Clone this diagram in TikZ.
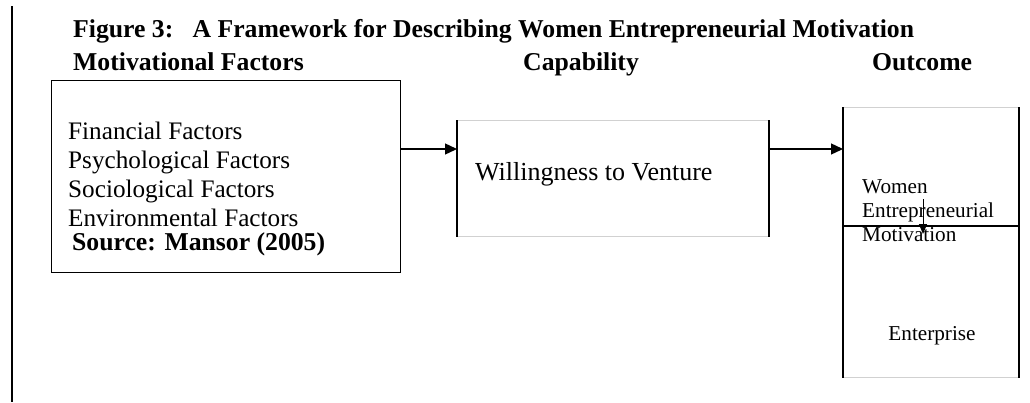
\documentclass[tikz,border=0pt]{standalone}
\usepackage{fontspec}
\setmainfont{Liberation Serif}
\usetikzlibrary{positioning,arrows.meta}
\tikzset{
  box/.style={draw=black, line width=1.2pt, inner sep=0pt},
  softbox/.style={draw=black!18, line width=1pt, inner sep=0pt},
  side/.style={draw=black, line width=1.2pt},
  link/.style={draw=black, line width=1.3pt, -{Triangle[length=12pt,width=11pt]}},
  head/.style={font=\fontsize{25.7}{28}\selectfont\bfseries, anchor=base west, inner sep=0pt},
  body/.style={font=\fontsize{25.2}{29}\selectfont, anchor=base west, inner sep=0pt},
  small/.style={font=\fontsize{21.2}{24}\selectfont, anchor=base west, inner sep=0pt}
}

\begin{document}
\begin{tikzpicture}[x=1pt, y=-1pt]
  \useasboundingbox (0,0) rectangle (1030,402);
  \draw[line width=1.5pt] (12,6) -- (12,402);

  % headings
  \node[head] (title) at (73,37) {Figure 3:\ \ \ A Framework for Describing Women Entrepreneurial Motivation};
  \node[head] (hfac) at (73,70) {Motivational Factors};
  \node[head] (hcap) at (523,70) {Capability};
  \node[head] (hout) at (872,70) {Outcome};

  % motivational factors
  \node[box, minimum width=349pt, minimum height=192pt, anchor=north west] (factors) at (51,80) {};
  \foreach \t [count=\i] in {Financial Factors, Psychological Factors, Sociological Factors, Environmental Factors}
    \node[body] (f\i) at (68,110+29*\i) {\t};
  \node[head] (source) at (72,250) {Source: Mansor (2005)};

  % capability
  \node[softbox, minimum width=311pt, minimum height=116pt, anchor=north west] (capab) at (457,120) {};
  \draw[side] (capab.north west) -- (capab.south west);
  \draw[side] (capab.north east) -- (capab.south east);
  \node[body, font=\fontsize{26}{29}\selectfont] (will) at (475,180) {Willingness to Venture};

  % outcome
  \node[softbox, minimum width=175pt, minimum height=119pt, anchor=north west] (outtop) at (843,107) {};
  \node[softbox, minimum width=175pt, minimum height=151pt, anchor=north west] (outbot) at (843,226) {};
  \draw[side] (outtop.north west) -- (outbot.south west);
  \draw[side] (outtop.north east) -- (outbot.south east);
  \draw[side] (outbot.north west) -- (outbot.north east);
  \node[small] (women) at (862,193) {Women};
  \node[small] (entre) at (862,217) {Entrepreneurial};
  \node[small] (motiv) at (862,241) {Motivation};
  \node[small, anchor=base] (enter) at (932,340) {Enterprise};

  % arrows
  \coordinate (lvl) at (0,149);
  \coordinate (drop) at (923,199);
  \coordinate (dropend) at (923,234);
  \draw[link] (factors.east |- lvl) -- (capab.west |- lvl);
  \draw[link] (capab.east |- lvl) -- (outtop.west |- lvl);
  \draw[link, line width=1pt, -{Triangle[length=10pt,width=8pt]}] (drop) -- (dropend);
\end{tikzpicture}
\end{document}
